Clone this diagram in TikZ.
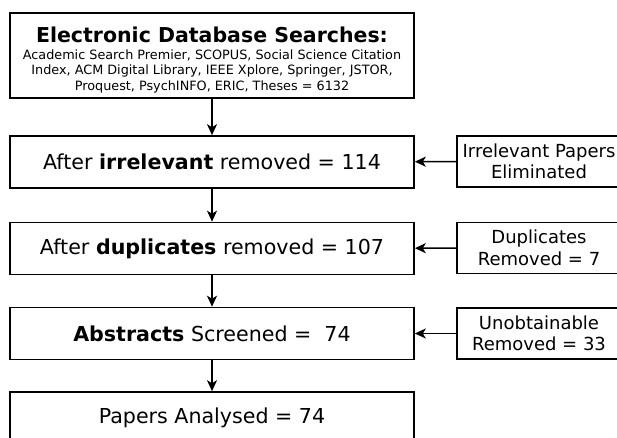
\documentclass[tikz,border=0pt]{standalone}
\usepackage{fontspec}
\setmainfont{DejaVu Sans}
\usetikzlibrary{arrows.meta}
\begin{document}
\begin{tikzpicture}[x=1pt,y=-1pt,
  box/.style={draw,line width=1.6pt,inner sep=0pt,align=center},
  mainbox/.style={box,minimum width=404pt,minimum height=52pt,font=\fontsize{20.6}{24}\selectfont},
  sidebox/.style={box,minimum width=164pt,minimum height=51pt,font=\fontsize{18}{21.5}\selectfont},
  ttl/.style={anchor=base,inner sep=0pt,font=\fontsize{20.5}{24}\selectfont\bfseries},
  sub/.style={anchor=base,inner sep=0pt,font=\fontsize{12.8}{15}\selectfont},
  arr/.style={line width=1.6pt,-{Stealth[length=11pt,width=10pt,inset=3pt]}}]
\useasboundingbox (0,0) rectangle (617,438);
\clip (0,0) rectangle (617,438);
\fill[white] (0,0) rectangle (617,438);
\node[box,minimum width=404pt,minimum height=85pt] (s) at (212,55.5) {};
\node[ttl] (t1) at (212,43) {Electronic Database Searches:};
\node[sub] (t2) at (212,59.5) {Academic Search Premier, SCOPUS, Social Science Citation};
\node[sub] (t3) at (212,75) {Index, ACM Digital Library, IEEE Xplore, Springer, JSTOR,};
\node[sub] (t4) at (212,90.5) {Proquest, PsychINFO, ERIC, Theses = 6132};
\node[mainbox] (a) at (212,162) {After \textbf{irrelevant} removed = 114};
\node[mainbox] (b) at (212,248.5) {After \textbf{duplicates} removed = 107};
\node[mainbox] (c) at (212,333.5) {\textbf{Abstracts} Screened =\ \ 74};
\node[mainbox] (d) at (212,418) {Papers Analysed = 74};
\node[sidebox] (ra) at (539,161.5) {Irrelevant Papers\\Eliminated};
\node[sidebox] (rb) at (539,248) {Duplicates\\Removed = 7};
\node[sidebox] (rc) at (539,333.5) {Unobtainable\\Removed = 33};
\draw[arr] (s) -- (a);
\draw[arr] (a) -- (b);
\draw[arr] (b) -- (c);
\draw[arr] (c) -- (d);
\draw[arr] (ra) -- (a);
\draw[arr] (rb) -- (b);
\draw[arr] (rc) -- (c);
\end{tikzpicture}
\end{document}
